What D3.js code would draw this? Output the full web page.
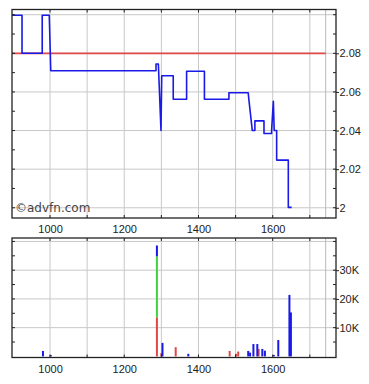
<!DOCTYPE html>
<html><head><meta charset="utf-8">
<script src="https://cdn.jsdelivr.net/npm/d3@7"></script>
<style>body{margin:0;background:#fff}svg{display:block}</style>
</head><body>
<script>
// ---- data ----
const priceT = [897.6, 924.6, 924.6, 979, 979, 998, 1002, 1285.6, 1285.6, 1291.9, 1299, 1301, 1332, 1332, 1368, 1368, 1416, 1416, 1482, 1482, 1534, 1535.5, 1545, 1552, 1552, 1576.5, 1576.5, 1597, 1597, 1601.7, 1604, 1610.6, 1610.6, 1642, 1642, 1651];
const priceV = [2.0997, 2.0997, 2.08, 2.08, 2.0997, 2.0997, 2.071, 2.071, 2.0745, 2.0745, 2.04, 2.0684, 2.0684, 2.0562, 2.0562, 2.0707, 2.0707, 2.0562, 2.0562, 2.0596, 2.0596, 2.0565, 2.04, 2.04, 2.045, 2.045, 2.0385, 2.0385, 2.04, 2.0552, 2.04, 2.04, 2.0247, 2.0247, 2.0002, 2.0002];
const prevClose = 2.08;
const nowMark = 1742.7;

const volT     = [981, 1002, 1288, 1300, 1303, 1338.6, 1372.6, 1484, 1501, 1507, 1534, 1539, 1548, 1558.5, 1562, 1572, 1579, 1603, 1615, 1645, 1649];
const volRed   = [0, 0, 13600, 1200, 0, 3200, 0, 1900, 900, 1700, 0, 0, 0, 0, 2600, 0, 0, 0, 0, 0, 0];
const volGreen = [0, 0, 21200, 0, 0, 0, 0, 0, 0, 0, 0, 0, 0, 0, 0, 0, 0, 0, 0, 0, 0];
const volBlue  = [1900, 500, 3800, 0, 4700, 0, 900, 0, 0, 0, 1900, 1300, 4300, 4300, 0, 2600, 2000, 500, 5700, 21400, 15300];

const xGrid = [1000, 1100, 1200, 1300, 1400, 1500, 1600, 1700];
const xLabels = [1000, 1200, 1400, 1600];
const priceGrid = [2.00, 2.02, 2.04, 2.06, 2.08, 2.10];
const priceLabels = [2.00, 2.02, 2.04, 2.06, 2.08];
const priceMinor = [2.00, 2.01, 2.02, 2.03, 2.04, 2.05, 2.06, 2.07, 2.08, 2.09, 2.10];
const volGrid = [10000, 20000, 30000, 40000];
const volLabels = [10000, 20000, 30000];
const volMinor = [5000, 10000, 15000, 20000, 25000, 30000, 35000, 40000];

// ---- layout ----
const W = 369, H = 384;
const L = 12, R = 336;
const pTop = 9.5, pBot = 218;
const vTop = 238, vBot = 357.5;
const font = "'Liberation Sans', Arial, sans-serif";

const svg = d3.select("body").append("svg").attr("width", W).attr("height", H);

const x = d3.scaleLinear().domain([897.6, 1770.5]).range([L, R]);
const yP = d3.scaleLinear().domain([1.9947, 2.1027]).range([pBot, pTop]);
const yV = d3.scaleLinear().domain([-380, 41200]).range([vBot, vTop]);

const gridColor = "#c8c8c8";
const frameColor = "#222";

function panel(y, yGrid, yMinor, top, bot) {
  const g = svg.append("g");
  g.selectAll(".vg").data(xGrid).join("line")
    .attr("x1", d => x(d)).attr("x2", d => x(d)).attr("y1", top).attr("y2", bot)
    .attr("stroke", gridColor).attr("stroke-width", 1);
  g.selectAll(".hg").data(yGrid).join("line")
    .attr("x1", L).attr("x2", R).attr("y1", d => y(d)).attr("y2", d => y(d))
    .attr("stroke", gridColor).attr("stroke-width", 1);
  g.append("line").attr("x1", x(nowMark)).attr("x2", x(nowMark)).attr("y1", top).attr("y2", bot)
    .attr("stroke", "#b8b8b8").attr("stroke-width", 1);
  return g;
}

function frame(y, yMinor, top, bot) {
  const g = svg.append("g");
  g.append("rect").attr("x", L).attr("y", top).attr("width", R - L).attr("height", bot - top)
    .attr("fill", "none").attr("stroke", frameColor).attr("stroke-width", 1.3);
  // inward ticks
  g.selectAll(".tl").data(yMinor).join("line")
    .attr("x1", L).attr("x2", L + 3).attr("y1", d => y(d)).attr("y2", d => y(d))
    .attr("stroke", frameColor);
  g.selectAll(".tr").data(yMinor).join("line")
    .attr("x1", R - 3).attr("x2", R).attr("y1", d => y(d)).attr("y2", d => y(d))
    .attr("stroke", frameColor);
  g.selectAll(".tt").data(xGrid).join("line")
    .attr("x1", d => x(d)).attr("x2", d => x(d)).attr("y1", top).attr("y2", top + 3)
    .attr("stroke", frameColor);
  g.selectAll(".tb").data(xGrid).join("line")
    .attr("x1", d => x(d)).attr("x2", d => x(d)).attr("y1", bot - 3).attr("y2", bot)
    .attr("stroke", frameColor);
}

// ---- price panel ----
panel(yP, priceGrid, priceMinor, pTop, pBot);

svg.append("line").attr("x1", L).attr("x2", x(nowMark))
  .attr("y1", yP(prevClose)).attr("y2", yP(prevClose))
  .attr("stroke", "#dd4a4a").attr("stroke-width", 1.8);

svg.append("text").attr("x", 15).attr("y", 212)
  .attr("font-family", "'DejaVu Sans', Verdana, sans-serif").attr("font-size", 12)
  .attr("fill", "#444").text("©advfn.com");

const pts = priceT.map((t, i) => [t, priceV[i]]);
svg.append("path").datum(pts)
  .attr("d", d3.line().x(d => x(d[0])).y(d => yP(d[1])))
  .attr("fill", "none").attr("stroke", "#1a1ae6").attr("stroke-width", 1.6)
  .attr("stroke-linejoin", "round");

frame(yP, priceMinor, pTop, pBot);

// ---- volume panel ----
panel(yV, volGrid, volMinor, vTop, vBot);

const rows = volT.map((t, i) => ({ t, red: volRed[i], green: volGreen[i], blue: volBlue[i] }));
const stack = d3.stack().keys(["red", "green", "blue"])(rows);
const colors = { red: "#e04848", green: "#3fd23f", blue: "#1a1ae6" };
stack.forEach(layer => {
  svg.append("g").selectAll("rect").data(layer.filter(d => d[1] > d[0])).join("rect")
    .attr("x", d => x(d.data.t) - 1).attr("width", 2)
    .attr("y", d => yV(d[1])).attr("height", d => yV(d[0]) - yV(d[1]))
    .attr("fill", colors[layer.key]);
});

frame(yV, volMinor, vTop, vBot);

// ---- axes labels ----
function styleAxis(g) {
  g.select(".domain").remove();
  g.selectAll("text").attr("font-family", font).attr("font-size", 11).attr("fill", "#222");
  g.selectAll("line").attr("stroke", frameColor);
}
svg.append("g").attr("transform", `translate(0,${pBot})`)
  .call(d3.axisBottom(x).tickValues(xLabels).tickSize(0).tickPadding(7).tickFormat(d3.format("d")))
  .call(styleAxis);
svg.append("g").attr("transform", `translate(0,${vBot})`)
  .call(d3.axisBottom(x).tickValues(xLabels).tickSize(0).tickPadding(7.5).tickFormat(d3.format("d")))
  .call(styleAxis);
svg.append("g").attr("transform", `translate(${R},0)`)
  .call(d3.axisRight(yP).tickValues(priceLabels).tickSize(3).tickPadding(0.5)
    .tickFormat(d => d3.format("~g")(+d.toFixed(2))))
  .call(styleAxis);
svg.append("g").attr("transform", `translate(${R},0)`)
  .call(d3.axisRight(yV).tickValues(volLabels).tickSize(3).tickPadding(0.5)
    .tickFormat(d => (d / 1000) + "K"))
  .call(styleAxis);
</script>
</body></html>
